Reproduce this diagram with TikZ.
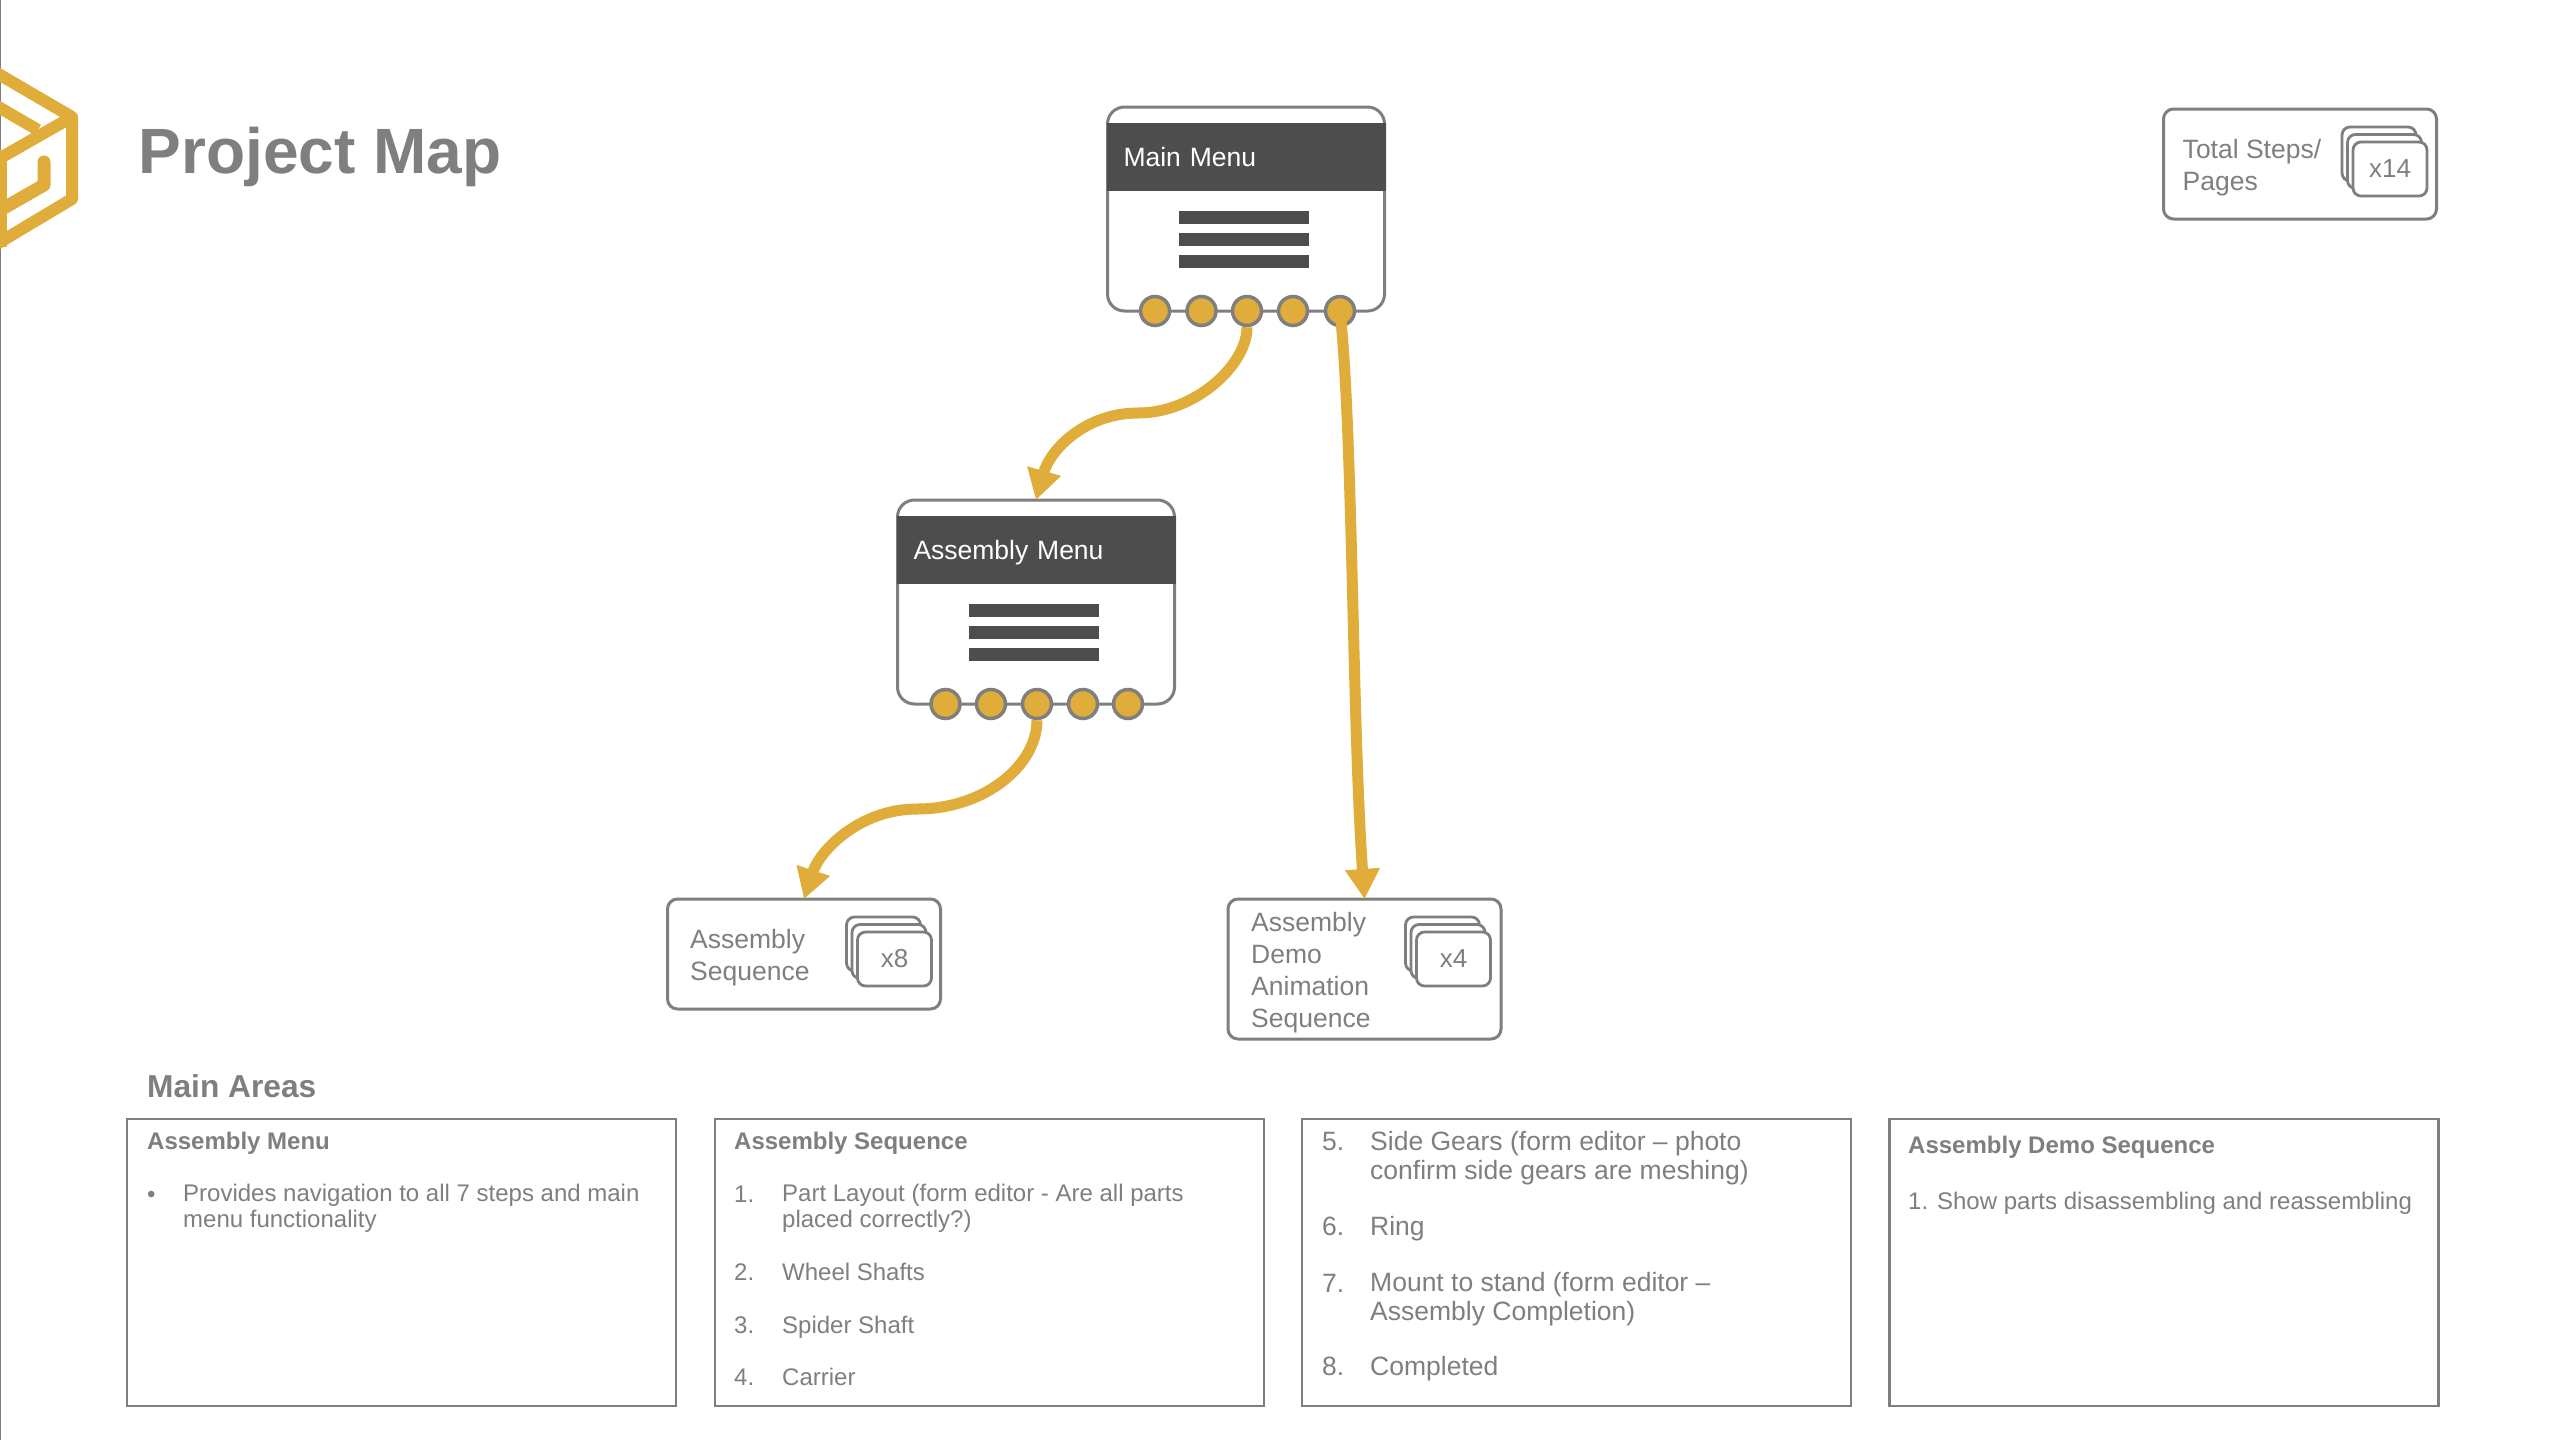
\documentclass[tikz,border=0pt]{standalone}
\usepackage{fontspec}
\setmainfont{Liberation Sans}
\usetikzlibrary{arrows.meta}
\definecolor{gold}{HTML}{E0AC3A}
\definecolor{linegray}{HTML}{7F7F7F}
\definecolor{headgray}{HTML}{4D4D4D}
\begin{document}
\begin{tikzpicture}[
    x=1pt, y=-1pt,
    menubox/.style={rectangle, draw=linegray, line width=3pt, outer sep=0pt, rounded corners=17pt, fill=white, minimum width=277pt, minimum height=204pt},
    menuhead/.style={rectangle, fill=headgray, text=white, inner xsep=17pt, inner ysep=0pt, text width=245pt, minimum height=68pt, text height=19pt, text depth=0pt, font=\fontsize{26.5}{32}\selectfont},
    menubar/.style={rectangle, fill=headgray, minimum width=130pt, minimum height=13pt, inner sep=0pt},
    portdot/.style={circle, draw=linegray, line width=3.5pt, fill=gold, minimum size=29pt, inner sep=0pt},
    infobox/.style={rectangle, draw=linegray, line width=3pt, outer sep=0pt, rounded corners=10pt, fill=white, minimum width=273pt},
    card/.style={rectangle, draw=linegray, line width=2.8pt, rounded corners=8pt, fill=white, minimum width=74pt, minimum height=54pt, inner sep=0pt, text=linegray, font=\fontsize{26}{32}\selectfont},
    infotext/.style={anchor=base west, inner sep=0pt, align=left, text=linegray, font=\fontsize{26.5}{32}\selectfont},
    areabox/.style={rectangle, draw=linegray, line width=2.6pt, outer sep=0pt, minimum width=549pt, minimum height=287pt},
    areahead/.style={anchor=base west, inner sep=0pt, text=linegray, font=\fontsize{24}{26}\selectfont\bfseries},
    smalltext/.style={anchor=base west, inner sep=0pt, align=left, text=linegray, font=\fontsize{24}{26}\selectfont},
    largetext/.style={anchor=base west, inner sep=0pt, align=left, text=linegray, font=\fontsize{26.5}{28.5}\selectfont},
    flow/.style={draw=gold, line width=11pt, -{Triangle[length=30pt, width=33pt]}},
    logoline/.style={draw=gold, line width=12pt, line join=round}
]
    \useasboundingbox (0,0) rectangle (2560,1440);
    \fill[white] (0,0) rectangle (2560,1440);

    % Logo und Titel
    \draw[linegray, line width=2pt] (0,0) -- (0,1440);
    \draw[logoline] (-5,72) -- (72,117) -- (72,199) -- (-5,245);
    \draw[logoline] (-5,105) -- (38,130);
    \draw[logoline] (-5,161) -- (72,117);
    \draw[logoline, line width=13pt, line cap=round] (44,162) -- (44,185) -- (-5,213);
    \draw[gold, line width=7pt] (3.5,150) -- (3.5,247);
    \node[anchor=base west, inner sep=0pt, text=linegray, font=\fontsize{64}{70}\selectfont\bfseries] (title) at (138.5,173) {Project Map};

    % Menues
    \node[menubox] (mainmenu) at (1246,209) {};
    \node[menuhead] (mainhead) at (1246,157) {Main Menu};
    \node[menubar] (mainbar1) at (1244,217.5) {};
    \node[menubar] (mainbar2) at (1244,239.5) {};
    \node[menubar] (mainbar3) at (1244,261.5) {};
    \node[portdot] (maindot1) at (1155,311) {};
    \node[portdot] (maindot2) at (1201.5,311) {};
    \node[portdot] (maindot3) at (1247,311) {};
    \node[portdot] (maindot4) at (1293,311) {};
    \node[portdot] (maindot5) at (1340,311) {};

    \node[menubox] (asmmenu) at (1036,602) {};
    \node[menuhead] (asmhead) at (1036,550) {Assembly Menu};
    \node[menubar] (asmbar1) at (1034,610.5) {};
    \node[menubar] (asmbar2) at (1034,632.5) {};
    \node[menubar] (asmbar3) at (1034,654.5) {};
    \node[portdot] (asmdot1) at (945.5,704) {};
    \node[portdot] (asmdot2) at (991,704) {};
    \node[portdot] (asmdot3) at (1037,704) {};
    \node[portdot] (asmdot4) at (1083,704) {};
    \node[portdot] (asmdot5) at (1128,704) {};

    % Seiten
    \node[infobox, minimum height=110pt] (seqbox) at (804,954) {};
    \node[infotext] (seqtext) at (690,980) {Assembly\\Sequence};
    \node[card] (seqcard1) at (883.5,944) {};
    \node[card] (seqcard2) at (889,951.5) {};
    \node[card] (seqcard3) at (894.5,959) {x8};

    \node[infobox, minimum height=140pt] (demobox) at (1364.5,969) {};
    \node[infotext] (demotext) at (1251,1027) {Assembly\\Demo\\Animation\\Sequence};
    \node[card] (democard1) at (1442.5,944) {};
    \node[card] (democard2) at (1448,951.5) {};
    \node[card] (democard3) at (1453.5,959) {x4};

    \node[infobox, minimum height=110pt] (totalbox) at (2300,164) {};
    \node[infotext] (totaltext) at (2182.5,190) {Total Steps/\\Pages};
    \node[card] (totalcard1) at (2379,154) {};
    \node[card] (totalcard2) at (2384.5,161.5) {};
    \node[card] (totalcard3) at (2390,169) {x14};

    % Verbindungen
    \draw[flow] (maindot3.south) .. controls (1247,365) and (1195,413) .. (1138,413) .. controls (1085,413) and (1050,450) .. (asmmenu.north);
    \draw[flow] (asmdot3.south) .. controls (1037,765) and (985,809) .. (917,809) .. controls (860,809) and (820,850) .. (seqbox.north);
    \draw[flow] (maindot5.center) .. controls (1353,430) and (1352,720) .. (demobox.north);

    % Bereiche
    \node[anchor=base west, inner sep=0pt, text=linegray, font=\fontsize{31.7}{36}\selectfont\bfseries] (areatitle) at (147,1097) {Main Areas};
    \node[areabox] (area1) at (401.5,1262.5) {};
    \node[areabox] (area2) at (989.5,1262.5) {};
    \node[areabox] (area3) at (1576.5,1262.5) {};
    \node[areabox] (area4) at (2164,1262.5) {};

    \node[areahead] (area1head) at (147,1149) {Assembly Menu};
    \node[smalltext] (area1dot) at (147,1202) {•};
    \node[smalltext] (area1text) at (183,1227) {Provides navigation to all 7 steps and main\\menu functionality};

    \node[areahead] (area2head) at (734,1149) {Assembly Sequence};
    \node[smalltext] (num1) at (734,1202) {1.};
    \node[smalltext] (item1) at (782,1227) {Part Layout (form editor - Are all parts\\placed correctly?)};
    \node[smalltext] (num2) at (734,1280) {2.};
    \node[smalltext] (item2) at (782,1280) {Wheel Shafts};
    \node[smalltext] (num3) at (734,1333) {3.};
    \node[smalltext] (item3) at (782,1333) {Spider Shaft};
    \node[smalltext] (num4) at (734,1385) {4.};
    \node[smalltext] (item4) at (782,1385) {Carrier};

    \node[largetext] (num5) at (1322,1150) {5.};
    \node[largetext] (item5) at (1370,1179) {Side Gears (form editor – photo\\confirm side gears are meshing)};
    \node[largetext] (num6) at (1322,1235) {6.};
    \node[largetext] (item6) at (1370,1235) {Ring};
    \node[largetext] (num7) at (1322,1292) {7.};
    \node[largetext] (item7) at (1370,1320) {Mount to stand (form editor –\\Assembly Completion)};
    \node[largetext] (num8) at (1322,1375) {8.};
    \node[largetext] (item8) at (1370,1375) {Completed};

    \node[areahead] (area4head) at (1908,1153) {Assembly Demo Sequence};
    \node[smalltext] (demoitem) at (1908,1209) {1. Show parts disassembling and reassembling};
\end{tikzpicture}
\end{document}
